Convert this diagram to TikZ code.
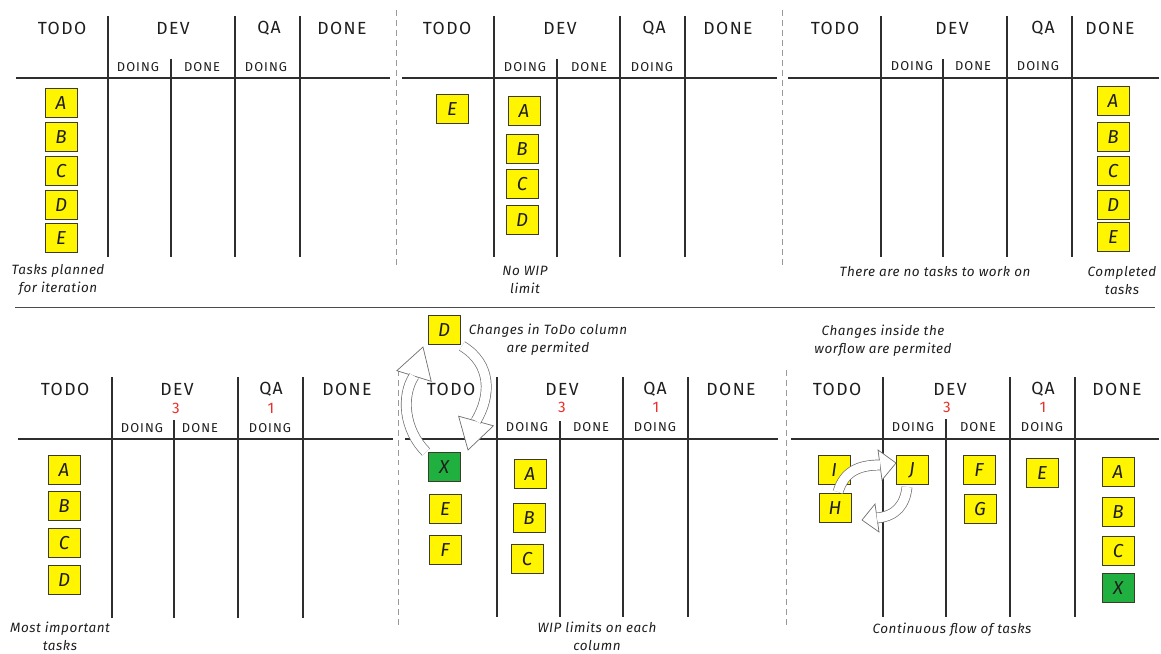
\documentclass[tikz,border=0pt]{standalone}
\usepackage{fontspec}
\setmainfont{Fira Sans}
\newfontfamily\hdrfont[LetterSpace=8]{Fira Sans}
\newfontfamily\capfont[LetterSpace=4]{Fira Sans}
\definecolor{cardyellow}{HTML}{FFF500}
\definecolor{cardgreen}{HTML}{20B040}
\definecolor{cardedge}{HTML}{3C3C28}
\definecolor{inkline}{HTML}{2E2E2E}
\definecolor{inktext}{HTML}{1E1E1E}
\definecolor{wipred}{HTML}{E8312A}
\definecolor{arrowedge}{HTML}{6E6E6E}
\tikzset{
  hdr/.style={font=\hdrfont\fontsize{15}{18}\selectfont, text=inktext, inner sep=0pt},
  subhdr/.style={font=\hdrfont\fontsize{11}{13}\selectfont, text=inktext, inner sep=0pt},
  wip/.style={font=\hdrfont\fontsize{13}{15}\selectfont, text=wipred, inner sep=0pt},
  card/.style={draw=cardedge, line width=0.7pt, fill=cardyellow, minimum width=0.96cm, minimum height=0.87cm, inner sep=0pt, font=\fontsize{16}{18}\selectfont\itshape, text=inktext},
  greencard/.style={card, fill=cardgreen},
  capt/.style={font=\capfont\itshape\fontsize{11.5}{15.4}\selectfont, text=inktext, align=center, inner sep=0pt},
  colline/.style={draw=inkline, line width=0.9pt},
  hline/.style={draw=inkline, line width=1.3pt},
  sepdash/.style={draw=gray!80, line width=0.8pt, dash pattern=on 5pt off 3.5pt},
  sepline/.style={draw=gray!60!black, line width=0.8pt},
  blockshaft/.style={draw=arrowedge, line width=0.6pt, double=white, double distance=8pt},
  blockhead/.style={draw=arrowedge, line width=0.6pt, fill=white, line join=miter},
}
\begin{document}
\begin{tikzpicture}[x=0.03cm, y=-0.03cm]
\useasboundingbox (0,0) rectangle (1161,654);

% ---------- separators ----------
\draw[sepline] (15,307) -- (1155,307);
\draw[sepdash] (396,10) -- (396,268);
\draw[sepdash] (782,10) -- (782,268);
\draw[sepdash] (398,370) -- (398,628);
\draw[sepdash] (786,370) -- (786,628);

% ---------- panel 1 (top left) ----------
\draw[hline] (16,78) -- (390,78);
\draw[colline] (108,16) -- (108,257);
\draw[colline] (171,59) -- (171,257);
\draw[colline] (235,16) -- (235,257);
\draw[colline] (300,16) -- (300,257);
\node[hdr] (p1todo) at (62,28) {TODO};
\node[hdr] (p1dev) at (173,28) {DEV};
\node[hdr] (p1qa) at (269,28) {QA};
\node[hdr] (p1done) at (342,28) {DONE};
\node[subhdr] (p1ddoing) at (138,67) {DOING};
\node[subhdr] (p1ddone) at (202,67) {DONE};
\node[subhdr] (p1qdoing) at (266,67) {DOING};
\node[card] (p1a) at (61,103) {A};
\node[card] (p1b) at (61,137) {B};
\node[card] (p1c) at (61,171) {C};
\node[card] (p1d) at (61,205) {D};
\node[card] (p1e) at (61,238) {E};
\node[capt] (p1cap) at (58,280) {Tasks planned\\for iteration};

% ---------- panel 2 (top middle) ----------
\draw[hline] (402,78) -- (777,78);
\draw[colline] (494,16) -- (494,257);
\draw[colline] (557,59) -- (557,257);
\draw[colline] (620,16) -- (620,257);
\draw[colline] (685,16) -- (685,257);
\node[hdr] (p2todo) at (447,28) {TODO};
\node[hdr] (p2dev) at (560,28) {DEV};
\node[hdr] (p2qa) at (654,28) {QA};
\node[hdr] (p2done) at (728,28) {DONE};
\node[subhdr] (p2ddoing) at (525,67) {DOING};
\node[subhdr] (p2ddone) at (589,67) {DONE};
\node[subhdr] (p2qdoing) at (652,67) {DOING};
\node[card] (p2e) at (452,109) {E};
\node[card] (p2a) at (524,111) {A};
\node[card] (p2b) at (522,149) {B};
\node[card] (p2c) at (522,184) {C};
\node[card] (p2d) at (522,220) {D};
\node[capt] (p2cap) at (525,280) {No WIP\\limit};

% ---------- panel 3 (top right) ----------
\draw[hline] (788,78) -- (1159,78);
\draw[colline] (881,16) -- (881,257);
\draw[colline] (943,59) -- (943,257);
\draw[colline] (1007,16) -- (1007,257);
\draw[colline] (1072,16) -- (1072,257);
\node[hdr] (p3todo) at (835,28) {TODO};
\node[hdr] (p3dev) at (952,28) {DEV};
\node[hdr] (p3qa) at (1043,28) {QA};
\node[hdr] (p3done) at (1110,28) {DONE};
\node[subhdr] (p3ddoing) at (912,66) {DOING};
\node[subhdr] (p3ddone) at (973,66) {DONE};
\node[subhdr] (p3qdoing) at (1038,66) {DOING};
\node[card] (p3a) at (1113,101) {A};
\node[card] (p3b) at (1113,137) {B};
\node[card] (p3c) at (1113,171) {C};
\node[card] (p3d) at (1113,205) {D};
\node[card] (p3e) at (1113,237) {E};
\node[capt] (p3cap) at (935,272) {There are no tasks to work on};
\node[capt] (p3cap2) at (1122,281) {Completed\\tasks};

% ---------- panel 4 (bottom left) ----------
\draw[hline] (18,439) -- (393,439);
\draw[colline] (112,377) -- (112,618);
\draw[colline] (174,420) -- (174,618);
\draw[colline] (238,377) -- (238,618);
\draw[colline] (303,377) -- (303,618);
\node[hdr] (p4todo) at (65,389) {TODO};
\node[hdr] (p4dev) at (177,389) {DEV};
\node[wip] (p4devw) at (176,408) {3};
\node[hdr] (p4qa) at (271,389) {QA};
\node[wip] (p4qaw) at (271,408) {1};
\node[hdr] (p4done) at (347,389) {DONE};
\node[subhdr] (p4ddoing) at (142,428) {DOING};
\node[subhdr] (p4ddone) at (200,428) {DONE};
\node[subhdr] (p4qdoing) at (270,428) {DOING};
\node[card] (p4a) at (64,470) {A};
\node[card] (p4b) at (64,506) {B};
\node[card] (p4c) at (64,543) {C};
\node[card] (p4d) at (64,580) {D};
\node[capt] (p4cap) at (60,636) {Most important\\tasks};

% ---------- panel 5 (bottom middle) ----------
\draw[hline] (405,439) -- (778,439);
\draw[colline] (497,377) -- (497,617);
\draw[colline] (560,421) -- (560,617);
\draw[colline] (623,377) -- (623,617);
\draw[colline] (688,377) -- (688,617);
\node[hdr] (p5todo) at (451,389) {TODO};
\node[hdr] (p5dev) at (562,389) {DEV};
\node[wip] (p5devw) at (562,407) {3};
\node[hdr] (p5qa) at (655,389) {QA};
\node[wip] (p5qaw) at (656,407) {1};
\node[hdr] (p5done) at (731,389) {DONE};
\node[subhdr] (p5ddoing) at (527,427) {DOING};
\node[subhdr] (p5ddone) at (591,427) {DONE};
\node[subhdr] (p5qdoing) at (655,427) {DOING};
\node[card] (p5top) at (444,330) {D};
\node[greencard] (p5x) at (444,467) {X};
\node[card] (p5e) at (445,509) {E};
\node[card] (p5f) at (445,550) {F};
\node[card] (p5a) at (530,474) {A};
\node[card] (p5b) at (529,518) {B};
\node[card] (p5c) at (527,559) {C};
\node[capt] (p5note) at (548,340) {Changes in ToDo column\\are permited};
\node[capt] (p5cap) at (597,636) {WIP limits on each\\column};

% block arrows of panel 5
\coordinate (u1tail) at (426,452);
\coordinate (u1base) at (414,376);
\coordinate (u1tip) at (423,347);
\coordinate (u1wa) at (396.8,370.7);
\coordinate (u1wb) at (431.2,381.3);
\draw[blockhead] (u1wa) -- (u1tip) -- (u1wb) -- cycle;
\draw[blockshaft] (u1tail) .. controls (404,430) and (401,396) .. (u1base);

\coordinate (d1tail) at (462,346);
\coordinate (d1base) at (476,421);
\coordinate (d1tip) at (468,450);
\coordinate (d1wa) at (458.6,416.2);
\coordinate (d1wb) at (493.4,425.8);
\draw[blockhead] (d1wa) -- (d1tip) -- (d1wb) -- cycle;
\draw[blockshaft] (d1tail) .. controls (492,364) and (491,396) .. (d1base);

% ---------- panel 6 (bottom right) ----------
\draw[hline] (791,439) -- (1159,439);
\draw[colline] (883,377) -- (883,617);
\draw[colline] (946,419) -- (946,617);
\draw[colline] (1010,377) -- (1010,617);
\draw[colline] (1075,377) -- (1075,617);
\node[hdr] (p6todo) at (837,389) {TODO};
\node[hdr] (p6dev) at (950,389) {DEV};
\node[wip] (p6devw) at (947,407) {3};
\node[hdr] (p6qa) at (1043,389) {QA};
\node[wip] (p6qaw) at (1043,407) {1};
\node[hdr] (p6done) at (1117,389) {DONE};
\node[subhdr] (p6ddoing) at (913,427) {DOING};
\node[subhdr] (p6ddone) at (978,427) {DONE};
\node[subhdr] (p6qdoing) at (1042,427) {DOING};
\node[card] (p6i) at (834,470) {I};
\node[card] (p6h) at (835,508) {H};
\node[card] (p6j) at (912,470) {J};
\node[card] (p6f) at (979,470) {F};
\node[card] (p6g) at (980,509) {G};
\node[card] (p6e) at (1042,473) {E};
\node[card] (p6a) at (1118,472) {A};
\node[card] (p6b) at (1118,512) {B};
\node[card] (p6c) at (1118,551) {C};
\node[greencard] (p6x) at (1118,588) {X};
\node[capt] (p6note) at (883,341) {Changes inside the\\worflow are permited};
\node[capt] (p6cap) at (952,630) {Continuous flow of tasks};

% block arrows of panel 6
\coordinate (r1tail) at (838,492);
\coordinate (r1base) at (880,465);
\coordinate (r1tip) at (896,463);
\coordinate (r1wa) at (878,450);
\coordinate (r1wb) at (882,480);
\draw[blockhead] (r1wa) -- (r1tip) -- (r1wb) -- cycle;
\draw[blockshaft] (r1tail) .. controls (844,472) and (858,465) .. (r1base);

\coordinate (l1tail) at (907,487);
\coordinate (l1base) at (877,518);
\coordinate (l1tip) at (862,520);
\coordinate (l1wa) at (875,504);
\coordinate (l1wb) at (879,532);
\draw[blockhead] (l1wa) -- (l1tip) -- (l1wb) -- cycle;
\draw[blockshaft] (l1tail) .. controls (905,505) and (896,516) .. (l1base);
\end{tikzpicture}
\end{document}
